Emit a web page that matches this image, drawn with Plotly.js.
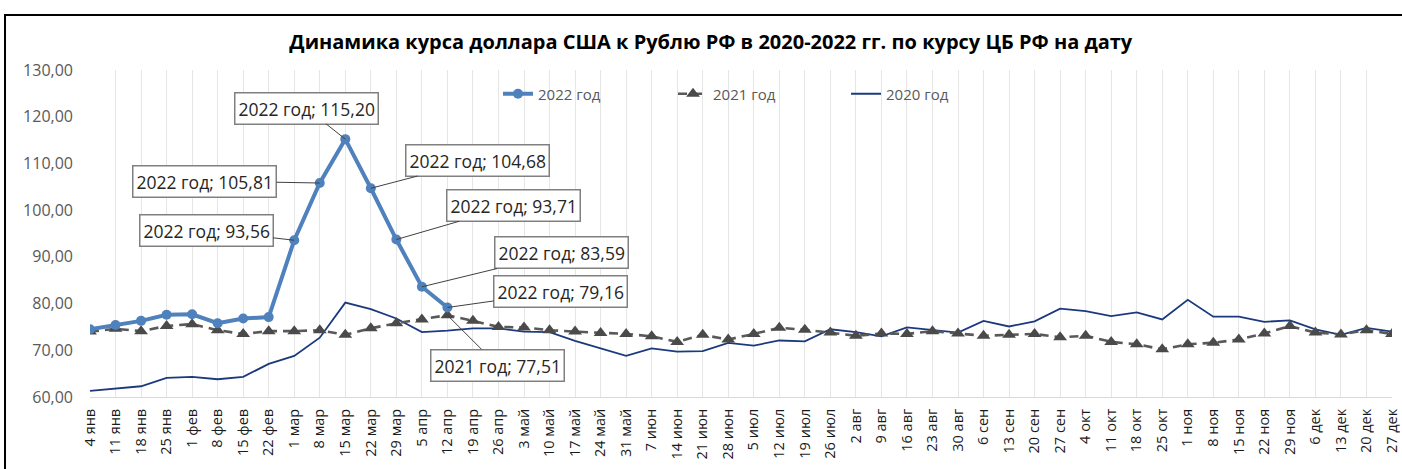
<!DOCTYPE html>
<html>
<head>
<meta charset="utf-8">
<script src="https://cdn.plot.ly/plotly-3.0.1.min.js"></script>
<style>
  html, body { margin: 0; padding: 0; background: #ffffff; }
  #frame { position: absolute; left: 4px; top: 14px; width: 1500px; height: 600px; border: 2px solid #000; }
  #chart { position: absolute; left: 0; top: 0; width: 1402px; height: 469px; }
</style>
</head>
<body>
<div id="frame"></div>
<div id="chart"></div>
<script>
const weeks = ["4 янв","11 янв","18 янв","25 янв","1 фев","8 фев","15 фев","22 фев","1 мар","8 мар","15 мар","22 мар","29 мар","5 апр","12 апр","19 апр","26 апр","3 май","10 май","17 май","24 май","31 май","7 июн","14 июн","21 июн","28 июн","5 июл","12 июл","19 июл","26 июл","2 авг","9 авг","16 авг","23 авг","30 авг","6 сен","13 сен","20 сен","27 сен","4 окт","11 окт","18 окт","25 окт","1 ноя","8 ноя","15 ноя","22 ноя","29 ноя","6 дек","13 дек","20 дек","27 дек"];

const seriesNames = ["2022 год", "2021 год", "2020 год"];

const usd2022 = [74.5, 75.4, 76.3, 77.6, 77.7, 75.8, 76.8, 77.1, 93.56, 105.81, 115.20, 104.68, 93.71, 83.59, 79.16];

const usd2021 = [74.0, 74.6, 74.1, 75.2, 75.6, 74.3, 73.5, 74.1, 74.1, 74.3, 73.3, 74.7, 75.8, 76.6, 77.51,
                 76.3, 75.0, 74.9, 74.3, 74.0, 73.7, 73.5, 73.0, 71.8, 73.3, 72.3, 73.5,
                 74.8, 74.4, 73.8, 73.1, 73.6, 73.5, 74.1, 73.6, 73.1, 73.3, 73.5, 72.8, 73.1,
                 71.8, 71.3, 70.2, 71.3, 71.6, 72.3, 73.6, 75.2, 73.8, 73.4, 74.3, 73.5];

const usd2020 = [61.3, 61.8, 62.3, 64.1, 64.3, 63.8, 64.3, 67.1, 68.8, 72.7, 80.2, 78.8, 76.8, 73.9,
                 74.2, 74.7, 74.7, 74.0, 73.9, 72.0, 70.4, 68.8, 70.4, 69.7, 69.8, 71.6, 71.0,
                 72.1, 71.9, 74.5, 73.9, 73.0, 74.9, 74.3, 73.8, 76.3, 75.1, 76.2, 78.9, 78.4,
                 77.3, 78.1, 76.6, 80.8, 77.2, 77.2, 76.1, 76.4, 74.5, 73.3, 74.8, 74.0];

// labelled points: [series index, week index, box offset x, box offset y]
const labelled = [
  [0, 8, -88, -10],
  [0, 9, -115, -2],
  [0, 10, -39, -31],
  [0, 11, 107, -28],
  [0, 12, 117, -34],
  [0, 13, 140, -34],
  [0, 14, 113, -16],
  [1, 14, 50, 50]
];

const seriesData = [usd2022, usd2021, usd2020];
const FONT = "Open Sans, Noto Sans, DejaVu Sans, sans-serif";

const traces = [
  {
    x: weeks, y: usd2020, name: seriesNames[2], type: "scatter", mode: "lines",
    line: { color: "#1B3A7E", width: 1.8 },
    legend: "legend3", hoverinfo: "skip"
  },
  {
    x: weeks, y: usd2021, name: seriesNames[1], type: "scatter", mode: "lines+markers",
    line: { color: "#595959", width: 2.6, dash: "9px,6px" },
    marker: { symbol: "triangle-up", size: 12, color: "#4a4a4a" },
    legend: "legend2", hoverinfo: "skip"
  },
  {
    x: weeks.slice(0, usd2022.length), y: usd2022, name: seriesNames[0], type: "scatter", mode: "lines+markers",
    line: { color: "#4F81BD", width: 4 },
    marker: { symbol: "circle", size: 10, color: "#4F81BD" },
    legend: "legend", hoverinfo: "skip"
  }
];

const annotations = labelled.map(([s, i, ax, ay]) => ({
  x: weeks[i], y: seriesData[s][i], xref: "x", yref: "y",
  text: seriesNames[s] + "; " + seriesData[s][i].toFixed(2).replace(".", ","),
  showarrow: true, arrowhead: 0, arrowwidth: 1, arrowcolor: "#404040",
  ax: ax, ay: ay, standoff: 0,
  bgcolor: "#ffffff", bordercolor: "#808080", borderwidth: 1.5, borderpad: 3,
  font: { family: FONT, size: 17.5, color: "#262626" }
}));

const legendBase = {
  orientation: "h", yanchor: "middle", xanchor: "left", y: 0.9266,
  bgcolor: "rgba(0,0,0,0)", borderwidth: 0,
  font: { family: FONT, size: 15, color: "#595959" }
};

const layout = {
  width: 1402, height: 469,
  margin: { l: 90, r: 10, t: 70, b: 72 },
  paper_bgcolor: "rgba(0,0,0,0)",
  plot_bgcolor: "rgba(0,0,0,0)",
  separators: ", ",
  title: {
    text: "<b>Динамика курса доллара США к Рублю РФ в 2020-2022 гг. по курсу ЦБ РФ на дату</b>",
    font: { family: FONT, size: 20, color: "#000000" },
    xref: "container", x: 0.507, xanchor: "center",
    yref: "container", y: 0.91, yanchor: "middle"
  },
  xaxis: {
    type: "category", categoryorder: "array", categoryarray: weeks,
    tickmode: "array", tickvals: weeks, ticktext: weeks,
    range: [0, weeks.length - 1],
    tickangle: -90, ticklabelstandoff: 5,
    tickfont: { family: FONT, size: 14.5, color: "#1a1a1a" },
    showgrid: true, gridcolor: "#e6e6e6", gridwidth: 1,
    showline: true, linecolor: "#d9d9d9", linewidth: 1,
    ticks: "", zeroline: false, fixedrange: true
  },
  yaxis: {
    range: [60, 130], dtick: 10, tick0: 60, tickformat: ".2f",
    tickfont: { family: FONT, size: 16, color: "#595959" },
    showgrid: false, zeroline: false, showline: false, ticks: "",
    ticklabelstandoff: 16, fixedrange: true
  },
  showlegend: true,
  legend: Object.assign({}, legendBase, { x: (498 - 90) / 1302 }),
  legend2: Object.assign({}, legendBase, { x: (673 - 90) / 1302 }),
  legend3: Object.assign({}, legendBase, { x: (846 - 90) / 1302 }),
  annotations: annotations
};

Plotly.newPlot("chart", traces, layout, { displayModeBar: false, staticPlot: true });
</script>
</body>
</html>
